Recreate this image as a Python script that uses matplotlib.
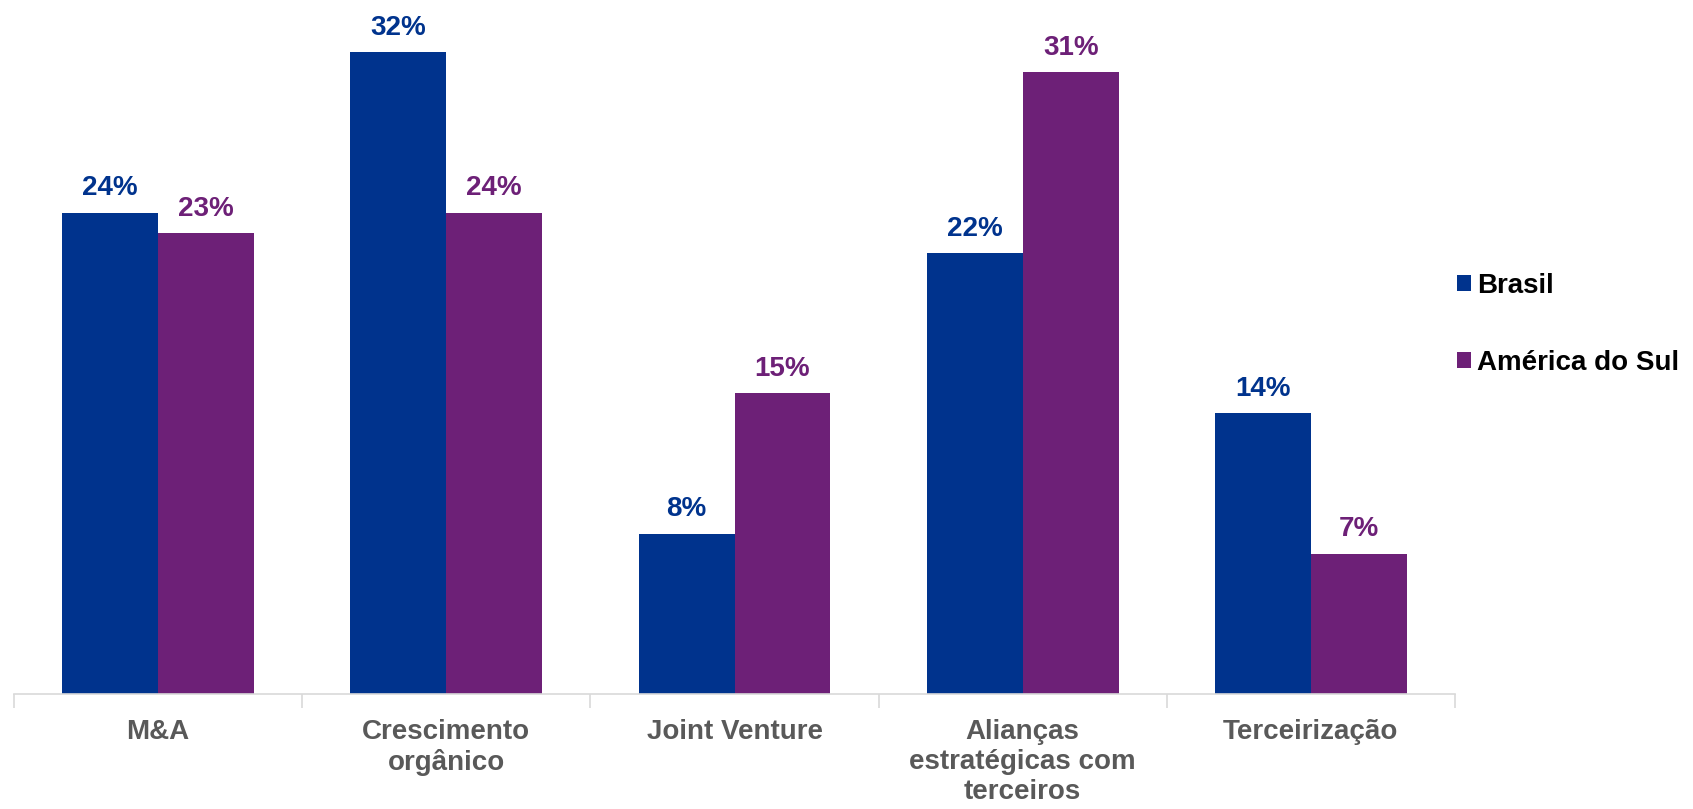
import matplotlib.pyplot as plt
import numpy as np

plt.rcParams['font.family'] = ['Liberation Sans', 'DejaVu Sans']

categorias = ['M&A', 'Crescimento\norgânico', 'Joint Venture',
              'Alianças\nestratégicas com\nterceiros', 'Terceirização']
brasil = [24, 32, 8, 22, 14]
america_sul = [23, 24, 15, 31, 7]

azul = '#00338D'
roxo = '#6D2077'

fig = plt.figure(figsize=(16.93, 8.09), dpi=100)
ax = fig.add_axes([0.0083, 0.1422, 0.8511, 0.8578])

x = np.arange(len(categorias))
w = 0.333
b1 = ax.bar(x - w / 2, brasil, w, color=azul, label='Brasil')
b2 = ax.bar(x + w / 2, america_sul, w, color=roxo, label='América do Sul')

for bars, vals, cor in [(b1, brasil, azul), (b2, america_sul, roxo)]:
    for rect, v in zip(bars, vals):
        ax.annotate(f'{v}%', (rect.get_x() + rect.get_width() / 2, v),
                    xytext=(0, 8), textcoords='offset points',
                    ha='center', va='bottom', fontsize=20,
                    fontweight='bold', color=cor)

ax.set_xlim(-0.5, len(categorias) - 0.5)
ax.set_ylim(0, 34.6)
ax.set_yticks([])
for s in ['top', 'right', 'left']:
    ax.spines[s].set_visible(False)
ax.spines['bottom'].set_color('#d9d9d9')
ax.spines['bottom'].set_linewidth(1.2)

# category labels centred, tick marks on the boundaries
ax.set_xticks(x)
ax.set_xticklabels(categorias, fontsize=20, fontweight='bold', color='#595959',
                   linespacing=1.2, va='top')
ax.tick_params(axis='x', length=0, pad=18)
ax.set_xticks(np.arange(-0.5, len(categorias)), minor=True)
ax.tick_params(axis='x', which='minor', length=10, color='#d9d9d9', width=1.2)

fig.legend(handles=[b1, b2], loc='upper left', bbox_to_anchor=(0.846, 0.694),
           frameon=False, prop={'size': 20, 'weight': 'bold'},
           handlelength=0.5, handleheight=0.5, handletextpad=0.2,
           labelspacing=1.85)

fig.savefig('out.png', dpi=100)
